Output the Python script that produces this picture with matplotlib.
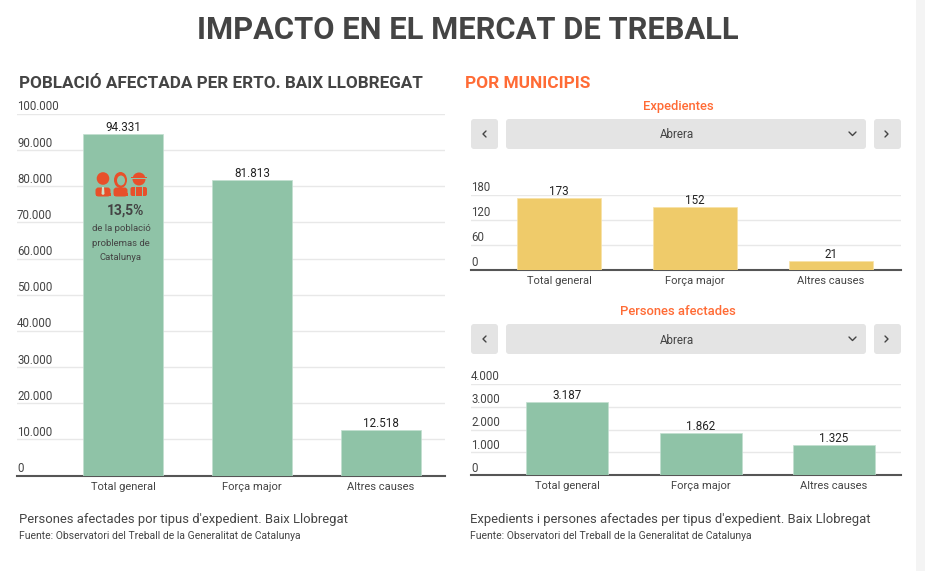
import matplotlib
matplotlib.use("Agg")
import matplotlib.pyplot as plt
from matplotlib.patches import FancyBboxPatch, Circle, Rectangle, Ellipse, Polygon
from matplotlib.ticker import FuncFormatter
from matplotlib.transforms import ScaledTranslation

plt.rcParams['font.family'] = ['Roboto', 'DejaVu Sans']

categories = ['Total general', 'Força major', 'Altres causes']
poblacio = [94331, 81813, 12518]
expedients = [173, 152, 21]
persones = [3187, 1862, 1325]
ticks_poblacio = [0, 10000, 20000, 30000, 40000, 50000, 60000, 70000, 80000, 90000, 100000]
ticks_expedients = [0, 60, 120, 180]
ticks_persones = [0, 1000, 2000, 3000, 4000]

GREEN = '#8fc3a7'
YELLOW = '#efcb6a'
ORANGE = '#ff6b35'
TXT = '#444444'
ICON = '#e8502a'
W, H = 925, 571

fig = plt.figure(figsize=(W / 100, H / 100), dpi=100, facecolor='white')
bg = fig.add_axes([0, 0, 1, 1], zorder=0)
bg.set_xlim(0, W); bg.set_ylim(H, 0); bg.axis('off')
ov = fig.add_axes([0, 0, 1, 1], zorder=5)
ov.set_xlim(0, W); ov.set_ylim(H, 0); ov.axis('off'); ov.patch.set_alpha(0)

bg.add_patch(Rectangle((916, 0), 9, H, fc='#f4f4f4', ec='none'))


def fmt(v, _=None):
    return f'{int(v):,}'.replace(',', '.')


def chart(x0, x1, ytop, ybase, vtop, values, ticks, color, edge, c0, step, bw):
    ax = fig.add_axes([x0 / W, 1 - ybase / H, (x1 - x0) / W, (ybase - ytop) / H], zorder=2)
    ax.patch.set_alpha(0)
    ax.set_ylim(0, vtop)
    ax.set_xlim((x0 - c0) / step, (x1 - c0) / step)
    bars = ax.bar(range(3), values, width=bw / step, color=color, edgecolor=edge, linewidth=0.5, zorder=3)
    ax.bar_label(bars, labels=[fmt(v) for v in values], padding=0, fontsize=8.4, color='#222222', zorder=4)
    ax.set_yticks(ticks)
    ax.yaxis.set_major_formatter(FuncFormatter(fmt))
    ax.set_xticks(range(3), categories)
    ax.tick_params(axis='x', length=0, pad=4.5, labelsize=8, labelcolor=TXT)
    ax.tick_params(axis='y', length=0, pad=0, labelsize=8.3, labelcolor=TXT)
    shift = ScaledTranslation(0, 0.5 / 100, fig.dpi_scale_trans)
    for lb in ax.get_yticklabels():
        lb.set_ha('left')
        lb.set_va('bottom')
        lb.set_transform(lb.get_transform() + shift)
    ax.grid(axis='y', color='#e8e8e8', linewidth=1, zorder=1)
    ax.set_axisbelow(True)
    for s in ['top', 'left', 'right']:
        ax.spines[s].set_visible(False)
    ax.spines['bottom'].set_color('#555555')
    ax.spines['bottom'].set_linewidth(1.5)
    return ax


chart(17, 445, 114, 475.6, 100000, poblacio, ticks_poblacio, GREEN, '#c2dfd0', 123, 129, 80)
chart(471, 901, 195, 270, 180, expedients, ticks_expedients, YELLOW, '#f8e2a6', 559, 136, 84)
chart(471, 901, 384, 475, 4000, persones, ticks_persones, GREEN, '#c2dfd0', 567, 133.5, 82)

# Headings
ov.text(468, 39, 'IMPACTO EN EL MERCAT DE TREBALL', ha='center', va='baseline',
        fontsize=22.2, fontweight='bold', color=TXT)
ov.text(19, 88.5, 'POBLACIÓ AFECTADA PER ERTO. BAIX LLOBREGAT', ha='left', va='baseline',
        fontsize=12.35, fontweight='bold', color=TXT)
ov.text(465, 88.5, 'POR MUNICIPIS', ha='left', va='baseline', fontsize=12.4, fontweight='bold', color=ORANGE)
ov.text(678, 106.5, 'Expedientes', ha='center', va='center', fontsize=9.4, fontweight='medium', color=ORANGE)
ov.text(678, 311.5, 'Persones afectades', ha='center', va='center', fontsize=9.4, fontweight='medium', color=ORANGE)

# Footers
ov.text(19, 519, "Persones afectades por tipus d'expedient. Baix Llobregat", ha='left', va='center', fontsize=9.35, color=TXT)
ov.text(19, 536, 'Fuente: Observatori del Treball de la Generalitat de Catalunya', ha='left', va='center', fontsize=7.5, color=TXT)
ov.text(470, 519, "Expedients i persones afectades per tipus d'expedient. Baix Llobregat", ha='left', va='center', fontsize=9.35, color=TXT)
ov.text(470, 536, 'Fuente: Observatori del Treball de la Generalitat de Catalunya', ha='left', va='center', fontsize=7.5, color=TXT)


def rbox(x, y, w, h):
    ov.add_patch(FancyBboxPatch((x + 3, y + 3), w - 6, h - 6, boxstyle='round,pad=3,rounding_size=3',
                                fc='#e4e4e4', ec='none'))


def chevron(cx, cy, d):
    if d == 'l':
        pts = [(cx + 2, cy - 3), (cx - 1, cy), (cx + 2, cy + 3)]
    elif d == 'r':
        pts = [(cx - 2, cy - 3), (cx + 1, cy), (cx - 2, cy + 3)]
    else:
        pts = [(cx - 3.5, cy - 2), (cx, cy + 1.5), (cx + 3.5, cy - 2)]
    ov.plot(*zip(*pts), color='#444444', lw=1.0, solid_capstyle='round')


for y in (119, 324):
    rbox(471, y, 27, 30)
    rbox(506, y, 360, 30)
    rbox(874, y, 27, 30)
    chevron(484, y + 15, 'l')
    chevron(887, y + 15, 'r')
    chevron(852.5, y + 15, 'd')
    ov.text(676.5, y + 16, 'Abrera', ha='center', va='center', fontsize=8.4, color=TXT)

# Icon group over the first bar
# man with tie
ov.add_patch(Circle((103, 178.5), 6.3, fc=ICON, ec='none'))
ov.add_patch(FancyBboxPatch((98, 190), 10, 4, boxstyle='round,pad=2.5,rounding_size=3', fc=ICON, ec='none'))
ov.add_patch(Rectangle((95.5, 193), 15, 3, fc=ICON, ec='none'))
ov.add_patch(Polygon([(102, 187), (104, 187), (104.5, 194), (103, 195), (101.5, 194)], fc='#cfe0c8', ec='none'))
# woman
ov.add_patch(Ellipse((120.5, 180), 13, 16, fc=ICON, ec='none'))
ov.add_patch(Ellipse((121, 180.5), 8, 10, fc=GREEN, ec='none'))
ov.add_patch(FancyBboxPatch((116, 190), 9, 4, boxstyle='round,pad=2.5,rounding_size=3', fc=ICON, ec='none'))
ov.add_patch(Rectangle((113.5, 193), 14, 3, fc=ICON, ec='none'))
# man with hat
ov.add_patch(Circle((139, 179), 6.5, fc=ICON, ec='none'))
ov.add_patch(Rectangle((131, 176.8), 16, 1.4, fc=ICON, ec='none'))
ov.add_patch(Rectangle((131, 178.2), 16, 1, fc=GREEN, ec='none'))
ov.add_patch(FancyBboxPatch((131.5, 188), 14.5, 7, boxstyle='round,pad=1,rounding_size=2', fc=ICON, ec='none'))
ov.add_patch(Rectangle((134.5, 187), 1.2, 10, fc=GREEN, ec='none'))
ov.add_patch(Rectangle((142, 187), 1.2, 10, fc=GREEN, ec='none'))

ov.text(126, 210.5, '13,5%', ha='center', va='center', fontsize=10, fontweight='bold', color=TXT)
ov.text(121, 228.5, 'de la població', ha='center', va='center', fontsize=6.8, color=TXT)
ov.text(121, 243, 'problemas de', ha='center', va='center', fontsize=6.8, color=TXT)
ov.text(121, 258, 'Catalunya', ha='center', va='center', fontsize=6.8, color=TXT)

fig.savefig('out.png', dpi=100, facecolor='white')
